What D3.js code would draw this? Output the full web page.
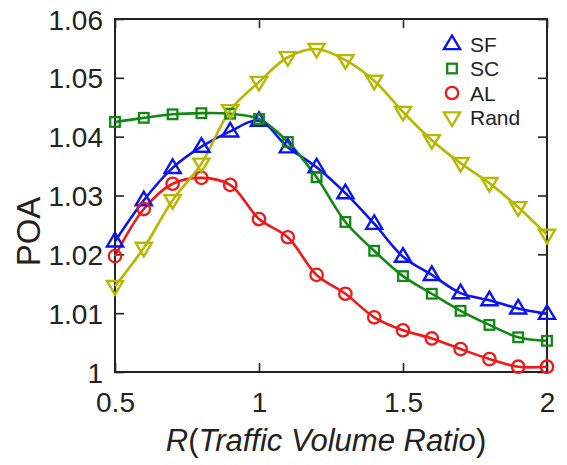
<!DOCTYPE html>
<html lang="en">
<head>
<meta charset="UTF-8">
<title>POA vs Traffic Volume Ratio</title>
<script src="https://d3js.org/d3.v7.min.js"></script>
<style>
  body { margin: 0; background: #fff; }
  svg { display: block; font-family: "Liberation Sans", Arial, sans-serif; }
</style>
</head>
<body>
<svg width="567" height="465"></svg>
<script>
// data
const ratios = [0.5, 0.6, 0.7, 0.8, 0.9, 1.0, 1.1, 1.2, 1.3, 1.4, 1.5, 1.6, 1.7, 1.8, 1.9, 2.0];
const sfValues = [1.0222, 1.0292, 1.0347, 1.0383, 1.0409, 1.0427, 1.0382, 1.0348, 1.0304, 1.0252, 1.0196, 1.0165, 1.0134, 1.0122, 1.0108, 1.0099];
const scValues = [1.0425, 1.0432, 1.0438, 1.0440, 1.0439, 1.0430, 1.0391, 1.0331, 1.0255, 1.0206, 1.0163, 1.0133, 1.0104, 1.0080, 1.0059, 1.0053];
const alValues = [1.0197, 1.0277, 1.0320, 1.0330, 1.0318, 1.0260, 1.0229, 1.0165, 1.0133, 1.0093, 1.0071, 1.0057, 1.0039, 1.0022, 1.0009, 1.0009];
const randValues = [1.0146, 1.0211, 1.0292, 1.0354, 1.0445, 1.0493, 1.0535, 1.0549, 1.0530, 1.0495, 1.0442, 1.0394, 1.0355, 1.0321, 1.0280, 1.0233];
const xTicks = [0.5, 1, 1.5, 2];
const yTicks = [1, 1.01, 1.02, 1.03, 1.04, 1.05, 1.06];
const seriesNames = ["SF", "SC", "AL", "Rand"];

const series = [
  { name: "SF", values: sfValues, color: "#0a14f0", shape: "tri" },
  { name: "SC", values: scValues, color: "#118814", shape: "square" },
  { name: "AL", values: alValues, color: "#f01818", shape: "circle" },
  { name: "Rand", values: randValues, color: "#b6b800", shape: "itri" }
];

const svg = d3.select("svg");
const plotL = 115, plotR = 547, plotT = 19, plotB = 372;

const x = d3.scaleLinear().domain([0.5, 2]).range([plotL, plotR]);
const y = d3.scaleLinear().domain([1, 1.06]).range([plotB, plotT]);

const fmt = d => d3.format(".2f")(d).replace(/\.?0+$/, "");

// axes (inward ticks on all sides)
const gx = svg.append("g").attr("transform", `translate(0,${plotB})`)
  .call(d3.axisBottom(x).tickValues(xTicks).tickSizeInner(-9).tickSizeOuter(0).tickPadding(20).tickFormat(fmt));
const gxt = svg.append("g").attr("transform", `translate(0,${plotT})`)
  .call(d3.axisTop(x).tickValues(xTicks).tickSizeInner(-9).tickSizeOuter(0).tickFormat(""));
const gy = svg.append("g").attr("transform", `translate(${plotL},0)`)
  .call(d3.axisLeft(y).tickValues(yTicks).tickSizeInner(-9).tickSizeOuter(0).tickPadding(12).tickFormat(fmt));
const gyr = svg.append("g").attr("transform", `translate(${plotR},0)`)
  .call(d3.axisRight(y).tickValues(yTicks).tickSizeInner(-9).tickSizeOuter(0).tickFormat(""));

[gx, gxt, gy, gyr].forEach(g => {
  g.select(".domain").remove();
  g.selectAll(".tick line").attr("stroke", "#222").attr("stroke-width", 1.6);
  g.selectAll("text").attr("font-size", 28).attr("fill", "#222")
    .attr("font-family", "'Liberation Sans', Arial, sans-serif");
});
gy.selectAll("text").attr("dy", "0.36em");

svg.append("rect").attr("x", plotL).attr("y", plotT)
  .attr("width", plotR - plotL).attr("height", plotB - plotT)
  .attr("fill", "none").attr("stroke", "#222").attr("stroke-width", 2);

// axis titles
svg.append("text")
  .attr("transform", `translate(40,${(plotT + plotB) / 2 + 36}) rotate(-90)`)
  .attr("text-anchor", "middle").attr("font-size", 33).attr("fill", "#222")
  .text("POA");

const xl = svg.append("text")
  .attr("x", (plotL + plotR) / 2 - 5).attr("y", 451)
  .attr("text-anchor", "middle").attr("font-size", 31).attr("fill", "#222")
  .attr("font-style", "italic");
xl.append("tspan").text("R");
xl.append("tspan").attr("font-style", "normal").text("(");
xl.append("tspan").text("Traffic Volume Ratio");
xl.append("tspan").attr("font-style", "normal").text(")");

// marker drawing
function marker(g, shape, cx, cy, color) {
  if (shape === "circle") {
    g.append("circle").attr("cx", cx).attr("cy", cy).attr("r", 6.2)
      .attr("fill", "none").attr("stroke", color).attr("stroke-width", 2.3);
  } else if (shape === "square") {
    g.append("rect").attr("x", cx - 4.8).attr("y", cy - 4.8).attr("width", 9.6).attr("height", 9.6)
      .attr("fill", "none").attr("stroke", color).attr("stroke-width", 2.3);
  } else {
    const s = 8.5, dir = shape === "tri" ? 1 : -1;
    const pts = [[cx, cy - dir * s], [cx - s * 0.95, cy + dir * s * 0.6], [cx + s * 0.95, cy + dir * s * 0.6]];
    g.append("polygon").attr("points", pts.map(p => p.join(",")).join(" "))
      .attr("fill", "none").attr("stroke", color).attr("stroke-width", 2.4)
      .attr("stroke-linejoin", "miter");
  }
}

const line = d3.line()
  .x((d, i) => x(ratios[i]))
  .y(d => y(d))
  .curve(d3.curveCatmullRom.alpha(0.5));

series.forEach(s => {
  svg.append("path").datum(s.values)
    .attr("d", line).attr("fill", "none")
    .attr("stroke", s.color).attr("stroke-width", 2.6);
});
series.forEach(s => {
  const g = svg.append("g");
  s.values.forEach((v, i) => marker(g, s.shape, x(ratios[i]), y(v), s.color));
});

// legend
const legY = [44, 68.5, 93, 117.5];
seriesNames.forEach((n, i) => {
  const s = series.find(d => d.name === n);
  const g = svg.append("g");
  marker(g, s.shape, 452, legY[i], s.color);
  g.append("text").attr("x", 470).attr("y", legY[i]).attr("dy", "0.36em")
    .attr("font-size", 21).attr("fill", "#222").text(n);
});
</script>
</body>
</html>
